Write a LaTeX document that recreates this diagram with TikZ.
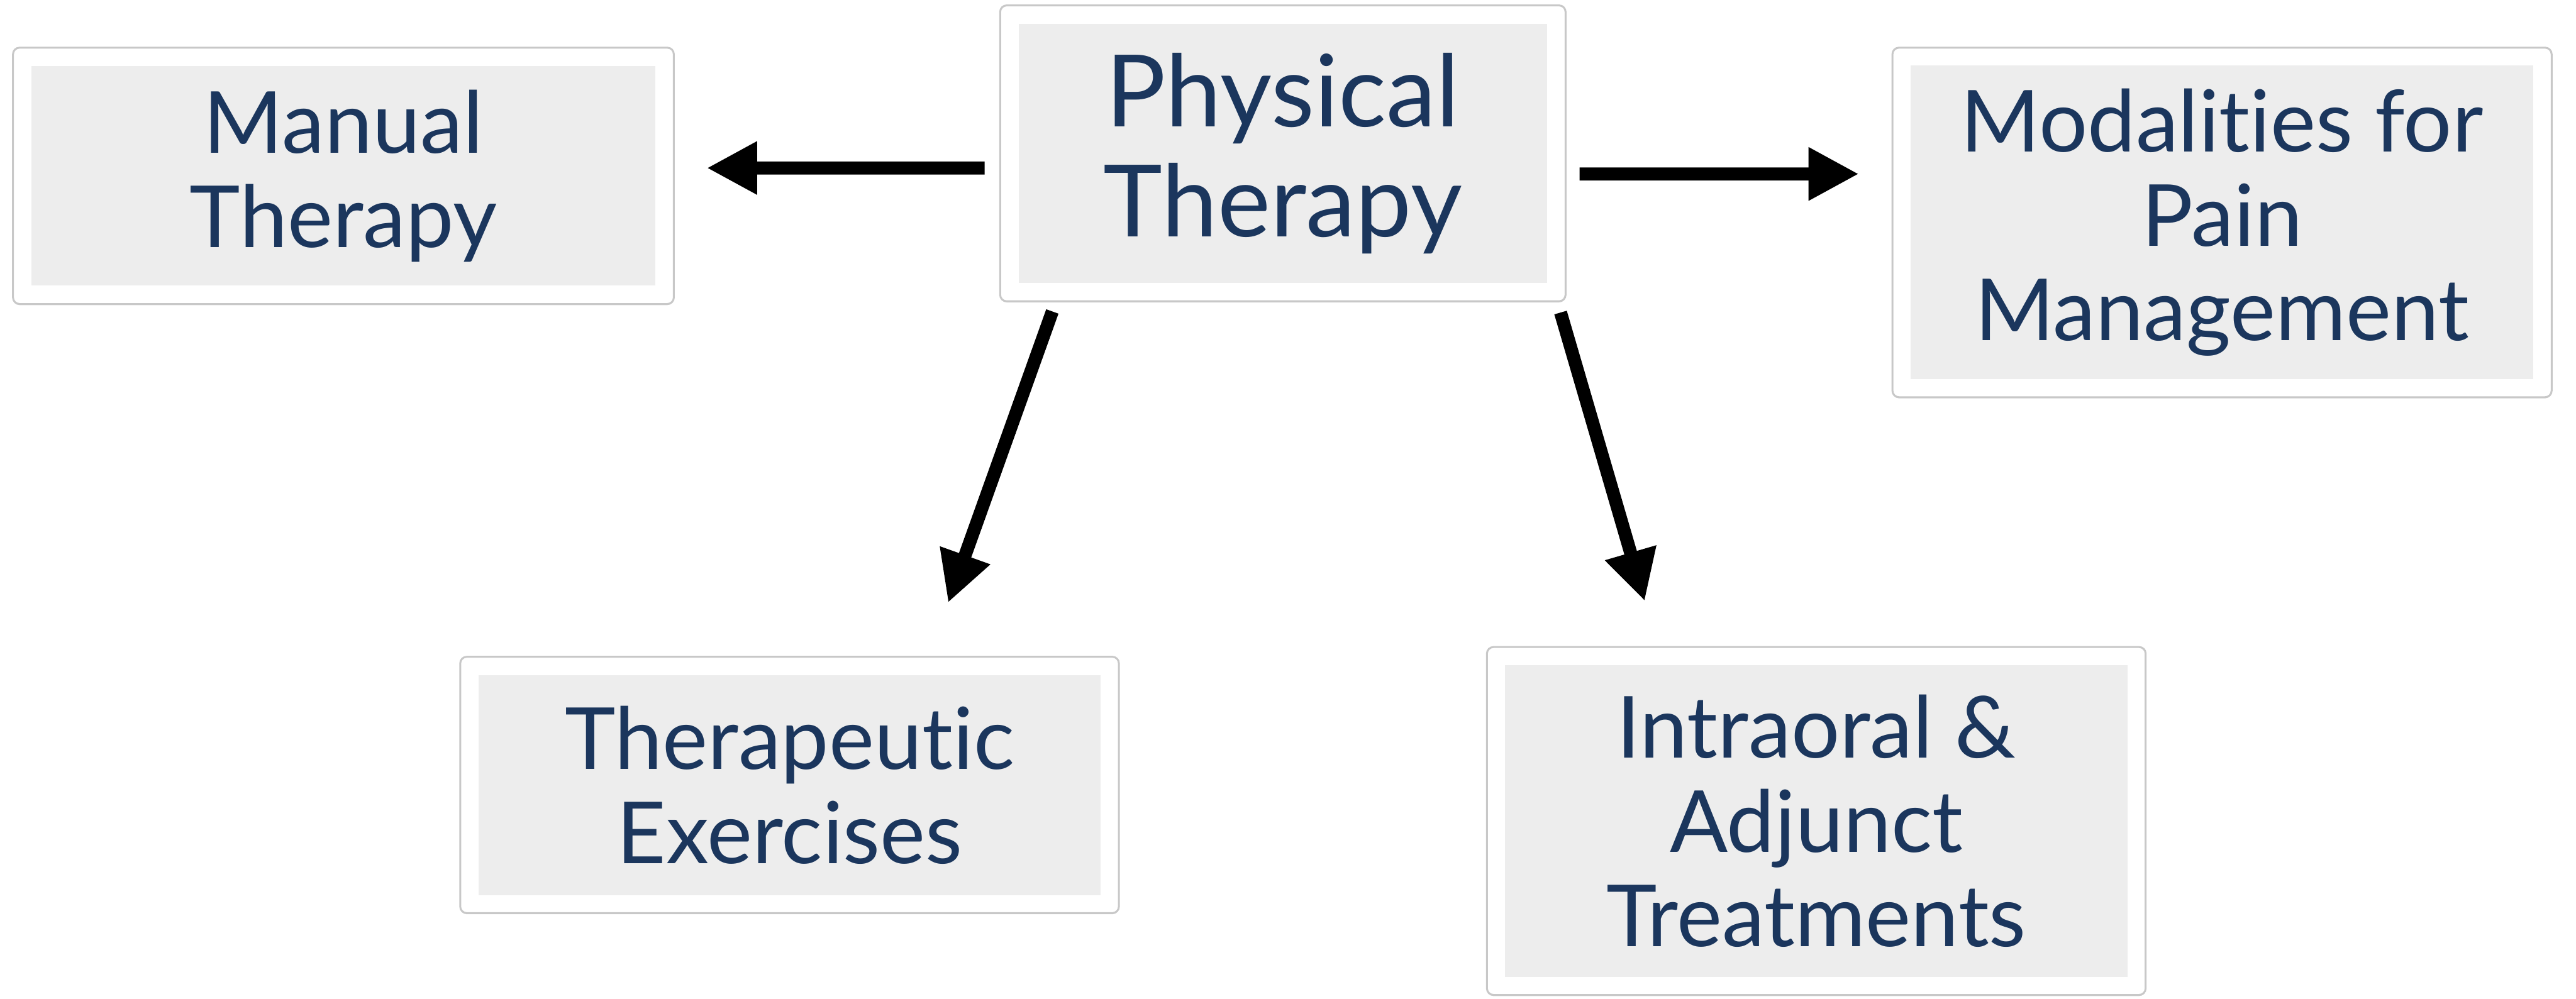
\documentclass[tikz,border=0pt]{standalone}
\usepackage{fontspec}
\setmainfont{Lato}[Ligatures=NoCommon]
\usepackage{tikz}
\usetikzlibrary{arrows.meta,positioning,calc,shadows}
\definecolor{TextNavy}{RGB}{27,54,93}
\definecolor{PanelGray}{RGB}{237,237,237}
\definecolor{FrameGray}{RGB}{200,200,200}

\tikzset{
  frame/.style={draw=FrameGray, fill=white, line width=1pt, rounded corners=0.12cm,
    drop shadow={shadow xshift=0pt, shadow yshift=-0.6pt, opacity=0.25}, inner sep=0pt},
  panel/.style={fill=PanelGray, text=TextNavy, align=center, inner sep=0pt,
    font=\fontsize{45}{49.5}\selectfont},
  bigpanel/.style={panel, font=\fontsize{52.5}{58}\selectfont},
  arr/.style={-{Triangle[length=0.93cm,width=0.92cm]}, line width=0.24cm}
}

\begin{document}
\begin{tikzpicture}
        \useasboundingbox (0,0) rectangle (47.52,-18.43);
        % outer frames
        \node[frame, minimum width=12.19cm, minimum height=4.73cm] (manualF) at (6.335,-3.245) {};
        \node[frame, minimum width=10.43cm, minimum height=5.46cm] (physF) at (23.665,-2.83) {};
        \node[frame, minimum width=12.16cm, minimum height=6.45cm] (modF) at (40.99,-4.105) {};
        \node[frame, minimum width=12.15cm, minimum height=4.73cm] (therF) at (14.565,-14.485) {};
        \node[frame, minimum width=12.15cm, minimum height=6.42cm] (intraF) at (33.505,-15.15) {};
        % gray panels with labels
        \node[panel, minimum width=11.51cm, minimum height=4.05cm] (manual) at (manualF) {Manual\\Therapy};
        \node[bigpanel, minimum width=9.75cm, minimum height=4.78cm] (phys) at (physF) {Physical\\Therapy};
        \node[panel, minimum width=11.48cm, minimum height=5.79cm] (mod) at (modF) {Modalities for\\Pain\\Management};
        \node[panel, minimum width=11.48cm, minimum height=4.06cm] (ther) at (therF) {Therapeutic\\Exercises};
        \node[panel, minimum width=11.48cm, minimum height=5.76cm] (intra) at (intraF) {Intraoral \&\\Adjunct\\Treatments};
        % arrows
        \draw[arr] ($(physF.west)+(-0.27,-0.27)$) -- ($(manualF.east)+(0.59,0.145)$);
        \draw[arr] ($(physF.east)+(0.24,-0.38)$) -- ($(modF.west)+(-0.60,0.895)$);
        \draw[arr] ($(physF.south west)+(0.98,-0.17)$) -- ($(therF.north)+(2.925,0.98)$);
        \draw[arr] ($(physF.south east)+(-0.11,-0.19)$) -- ($(intraF.north)+(-3.165,0.83)$);
\end{tikzpicture}
\end{document}
